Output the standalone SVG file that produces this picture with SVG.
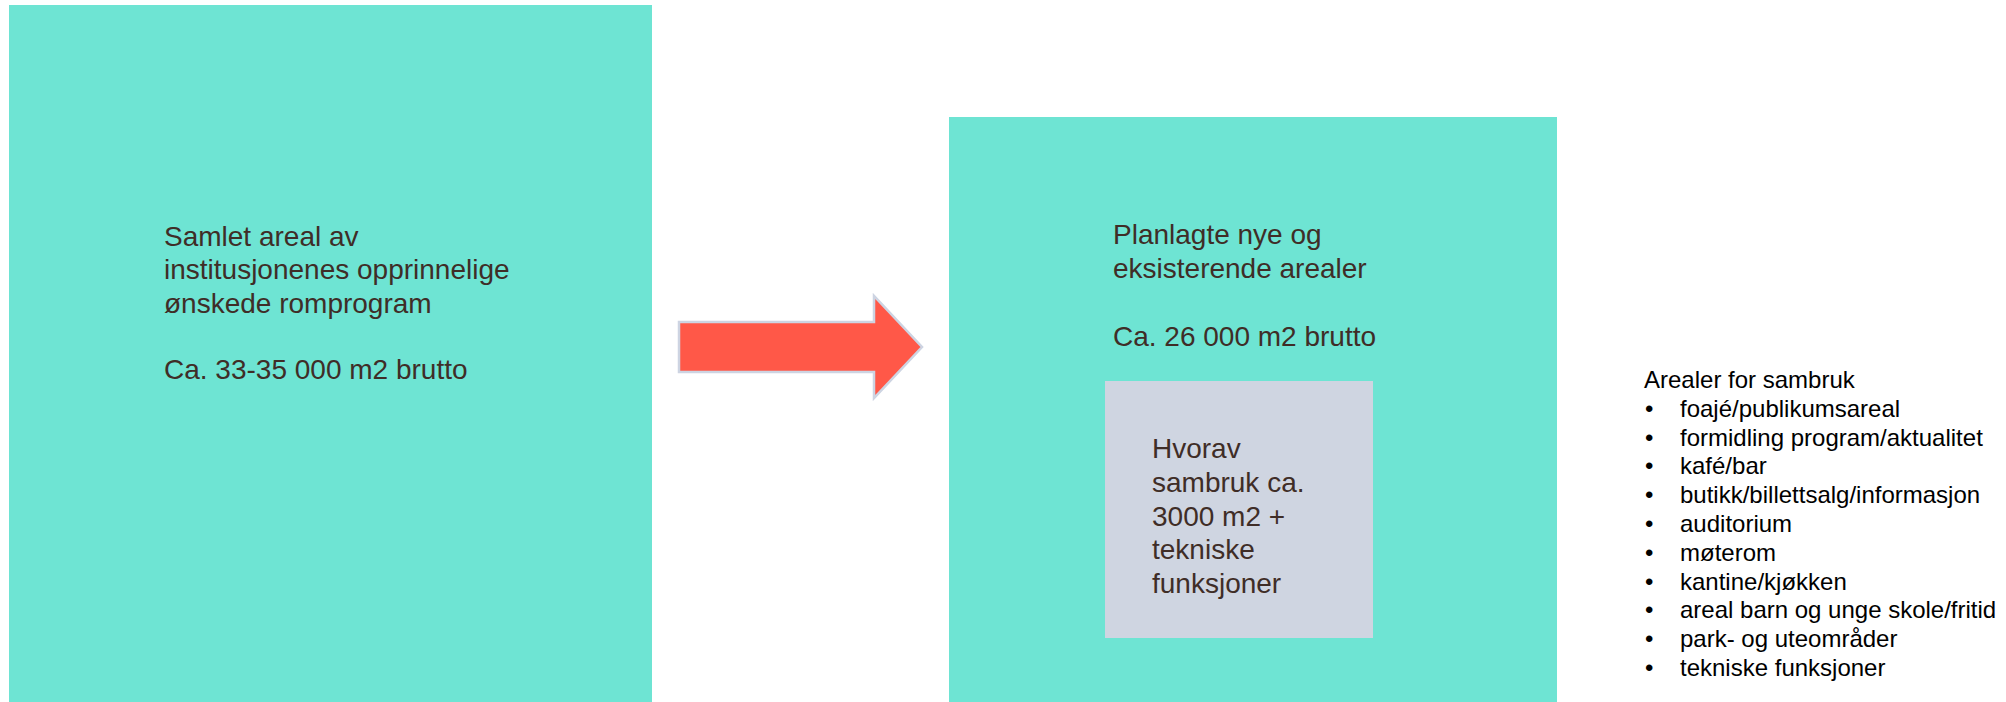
<svg xmlns="http://www.w3.org/2000/svg" width="2006" height="702" viewBox="0 0 2006 702">
<style>
.box{fill:#6ee4d3}
.inner{fill:#cfd5e1}
.t{font-family:"Liberation Sans",Arial,sans-serif;font-size:28px;fill:#3f2d27}
.l{font-family:"Liberation Sans",Arial,sans-serif;font-size:24px;fill:#000}
.arrow{fill:#ff5848;stroke:#cdd4e2;stroke-width:2.5}
</style>
<rect width="2006" height="702" fill="#fff"/>
<g id="node-left">
<rect class="box" x="9" y="5" width="643" height="697"/>
<text class="t" x="164" y="245.5">Samlet areal av</text>
<text class="t" x="164" y="279">institusjonenes opprinnelige</text>
<text class="t" x="164" y="312.5">ønskede romprogram</text>
<text class="t" x="164" y="379">Ca. 33-35 000 m2 brutto</text>
</g>
<g id="node-right">
<rect class="box" x="949" y="117" width="608" height="585"/>
<text class="t" x="1113" y="244">Planlagte nye og</text>
<text class="t" x="1113" y="278">eksisterende arealer</text>
<text class="t" x="1113" y="346">Ca. 26 000 m2 brutto</text>
</g>
<g id="node-inner">
<rect class="inner" x="1105" y="381" width="268" height="257"/>
<text class="t" x="1152" y="458">Hvorav</text>
<text class="t" x="1152" y="491.5">sambruk ca.</text>
<text class="t" x="1152" y="525.5">3000 m2 +</text>
<text class="t" x="1152" y="559">tekniske</text>
<text class="t" x="1152" y="592.5">funksjoner</text>
</g>
<g id="connectors">
<path class="arrow" d="M679,322 H874 V296 L922,347 L874,398 V372 H679 Z"/>
</g>
<g id="node-list">
<text class="l" x="1644" y="388">Arealer for sambruk</text>
<g>
<text class="l" x="1645" y="417">•</text><text class="l" x="1680" y="417">foajé/publikumsareal</text>
<text class="l" x="1645" y="446">•</text><text class="l" x="1680" y="446">formidling program/aktualitet</text>
<text class="l" x="1645" y="474">•</text><text class="l" x="1680" y="474">kafé/bar</text>
<text class="l" x="1645" y="503">•</text><text class="l" x="1680" y="503">butikk/billettsalg/informasjon</text>
<text class="l" x="1645" y="532">•</text><text class="l" x="1680" y="532">auditorium</text>
<text class="l" x="1645" y="561">•</text><text class="l" x="1680" y="561">møterom</text>
<text class="l" x="1645" y="590">•</text><text class="l" x="1680" y="590">kantine/kjøkken</text>
<text class="l" x="1645" y="618">•</text><text class="l" x="1680" y="618">areal barn og unge skole/fritid</text>
<text class="l" x="1645" y="647">•</text><text class="l" x="1680" y="647">park- og uteområder</text>
<text class="l" x="1645" y="676">•</text><text class="l" x="1680" y="676">tekniske funksjoner</text>
</g>
</g>
</svg>
